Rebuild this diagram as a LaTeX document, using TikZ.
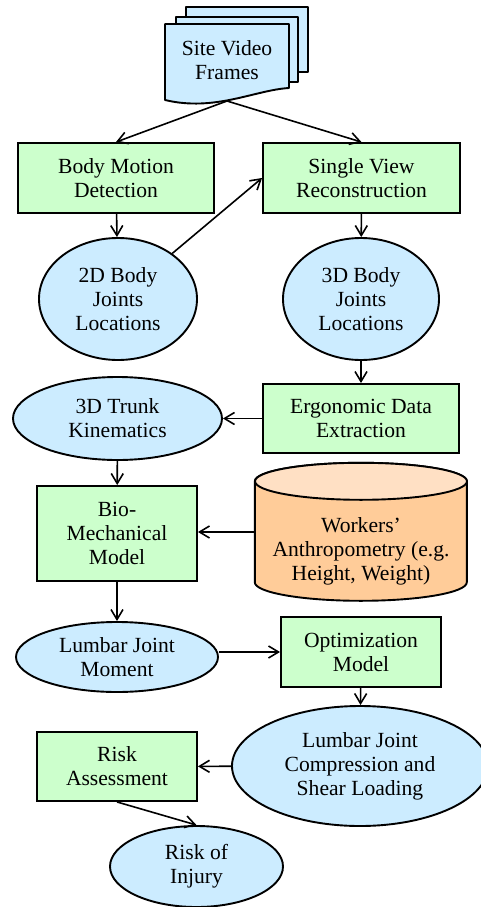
\documentclass[tikz,border=0pt]{standalone}
\usepackage{fontspec}
\setmainfont{Liberation Serif}
\usepackage{tikz}
\usetikzlibrary{arrows.meta,shapes.geometric}
\definecolor{procgreen}{RGB}{204,255,204}
\definecolor{datablue}{RGB}{204,236,255}
\definecolor{cylbody}{RGB}{255,204,153}
\definecolor{cyltop}{RGB}{255,224,196}

\begin{document}
\begin{tikzpicture}[x=1pt,y=-1pt,
    font=\fontsize{21.6}{24}\selectfont,
    proc/.style={rectangle,draw,line width=1.9pt,fill=procgreen,align=center,
        inner sep=0pt,minimum width=160pt,minimum height=70pt},
    data/.style={ellipse,draw,line width=1.9pt,fill=datablue,align=center,inner sep=0pt},
    sheet/.style={draw,line width=1.9pt,fill=datablue,line join=round},
    flow/.style={-{Straight Barb[length=10pt,width=12pt]},line width=1.6pt}]
    \useasboundingbox (0,0) rectangle (481,907);

    \draw [sheet] (186,7) rectangle (308,72);
    \draw [sheet] (176,17) rectangle (298,82);
    \draw [sheet] (165,24) -- (289,24) -- (289,88) .. controls (255,90) and (215,112) .. (165,100) -- cycle;
    \node [align=center] (frames) at (227,60) {Site Video\\Frames};
    \coordinate (framesbot) at (227,101);

    \node [proc,minimum width=196pt] (motion) at (116,178) {Body Motion\\Detection};
    \node [proc,minimum width=197pt] (single) at (361.5,178) {Single View\\Reconstruction};
    \node [data,minimum width=158pt,minimum height=122pt] (joints2d) at (118,299) {2D Body\\Joints\\Locations};
    \node [data,minimum width=156pt,minimum height=122pt] (joints3d) at (361,299) {3D Body\\Joints\\Locations};
    \node [proc,minimum width=196pt,minimum height=69pt] (ergo) at (361,418.5) {Ergonomic Data\\Extraction};
    \node [data,minimum width=209pt,minimum height=83pt] (trunk) at (117.5,418.5) {3D Trunk\\Kinematics};
    \node [proc,minimum height=95pt] (biomech) at (117,533.5) {Bio-\\Mechanical\\Model};

    \node [minimum width=212pt,minimum height=138pt] (anthro) at (361,532) {};
    \draw [line width=1.9pt,fill=cylbody] (anthro.north west) ++(0,18.5) -- ++(0,101)
        arc (180:0:106 and 18.5) -- ++(0,-101) arc (0:-180:106 and 18.5) -- cycle;
    \draw [line width=1.9pt,fill=cyltop] (anthro.north) ++(0,18.5) ellipse (106 and 18.5);
    \node [align=center] (anthrotext) at (361,551) {Workers'\\Anthropometry (e.g.\\Height, Weight)};

    \node [data,minimum width=202pt,minimum height=70pt] (lumbar) at (117,657) {Lumbar Joint\\Moment};
    \node [proc] (optim) at (361,652) {Optimization\\Model};
    \node [data,minimum width=256pt,minimum height=120pt] (loading) at (360,766) {Lumbar Joint\\Compression and\\Shear Loading};
    \node [proc,minimum height=69pt] (risk) at (117,766.5) {Risk\\Assessment};
    \node [data,minimum width=173pt,minimum height=81pt] (injury) at (196.5,866.5) {Risk of\\Injury};

    \draw [flow] (framesbot) -- (motion.north);
    \draw [flow] (framesbot) -- (single.north);
    \draw [flow] (motion) -- (joints2d);
    \draw [flow] (joints2d) -- (single.west);
    \draw [flow] (single) -- (joints3d);
    \draw [flow] (joints3d) -- (ergo);
    \draw [flow] (ergo) -- (trunk);
    \draw [flow] (trunk) -- (biomech);
    \draw [flow] (anthro.west) -- (anthro.west -| biomech.east);
    \draw [flow] (biomech) -- (lumbar);
    \draw [flow] (lumbar.east |- optim.west) -- (optim.west);
    \draw [flow] (optim) -- (loading);
    \draw [flow] (loading) -- (risk);
    \draw [flow] (risk.south) -- (injury.north);
\end{tikzpicture}
\end{document}
